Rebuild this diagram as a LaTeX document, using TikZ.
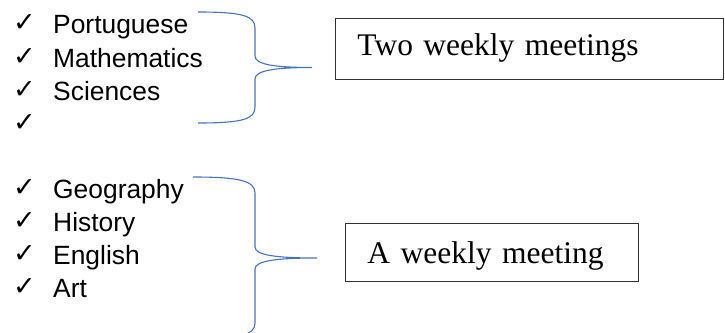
\documentclass[tikz,border=0pt]{standalone}
\usepackage{fontspec}
\setmainfont{Liberation Serif}
\newfontfamily\listfont{Liberation Sans}
\newfontfamily\chkfont{DejaVu Sans}
\definecolor{braceblue}{HTML}{4472C4}
\tikzset{
  item/.style={anchor=base west, inner sep=0pt, font=\listfont\fontsize{26.4pt}{30pt}\selectfont},
  chk/.style={anchor=base west, inner sep=0pt, font=\chkfont\fontsize{27pt}{27pt}\selectfont},
  meetbox/.style={anchor=base west, draw=black!80, line width=0.9pt, inner xsep=22pt, inner ysep=0pt, align=left,
    font=\fontsize{31.5pt}{34pt}\selectfont},
  bracestyle/.style={draw=braceblue, line width=1.1pt}
}
\begin{document}
\begin{tikzpicture}[x=1pt,y=-1pt]
\useasboundingbox (0,0) rectangle (725,332);
\clip (0,0) rectangle (725,332);
% first list
\node[chk] (c1) at (13,31.5) {✓};
\node[chk] (c2) at (13,65.5) {✓};
\node[chk] (c3) at (13,98.5) {✓};
\node[chk] (c4) at (13,131.5) {✓};
\node[item] (p1) at (53,33) {Portuguese};
\node[item] (p2) at (53,67) {Mathematics};
\node[item] (p3) at (53,100) {Sciences};
% second list
\node[chk] (d1) at (13,196.5) {✓};
\node[chk] (d2) at (13,229.5) {✓};
\node[chk] (d3) at (13,262.5) {✓};
\node[chk] (d4) at (13,295.5) {✓};
\node[item] (q1) at (53,198) {Geography};
\node[item] (q2) at (53,231) {History};
\node[item] (q3) at (53,264) {English};
\node[item] (q4) at (53,297) {Art};
% boxes
\node[meetbox, text width=344pt, text height=37pt, text depth=24pt] (b1) at (335,55) {Two weekly meetings};
\node[meetbox, text width=249pt, text height=40pt, text depth=18pt] (b2) at (345,263) {A weekly meeting};
% braces
\coordinate (t1) at (312,67.5);
\coordinate (t2) at (317,258);
\draw[bracestyle] (198,12) .. controls (243,12) and (255,16) .. (255,28) -- (255,56)
  .. controls (255,64) and (272,67.5) .. (t1)
  .. controls (272,67.5) and (255,71) .. (255,79) -- (255,107)
  .. controls (255,119) and (243,123) .. (198,123);
\draw[bracestyle] (193,177) .. controls (240,177) and (255,181) .. (255,193) -- (255,247)
  .. controls (255,255) and (275,258) .. (t2)
  .. controls (275,258) and (255,261) .. (255,269) -- (255,323)
  .. controls (255,335) and (240,339) .. (193,339);
\end{tikzpicture}
\end{document}
